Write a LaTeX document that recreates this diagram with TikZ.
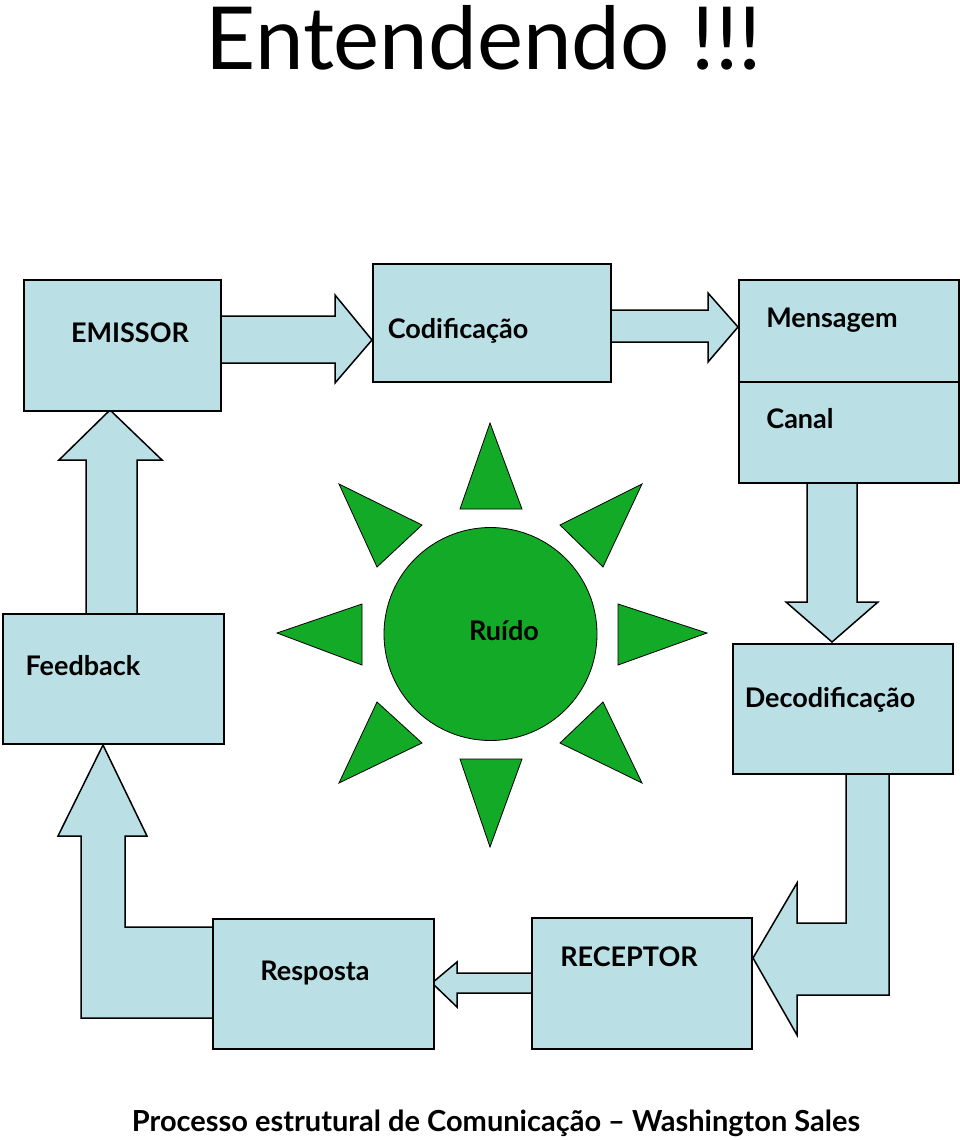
\documentclass[tikz,border=0pt]{standalone}
\usepackage{fontspec}
\setmainfont{Lato}
\definecolor{boxfill}{RGB}{186,223,228}
\definecolor{sungreen}{RGB}{18,170,38}
\begin{document}
\begin{tikzpicture}[x=1pt,y=-1pt,
  box/.style={draw=black, line width=1.5pt, fill=boxfill, rectangle, inner sep=0pt},
  blk/.style={draw=black, line width=1.5pt, fill=boxfill, line join=miter},
  lbl/.style={font=\fontsize{27}{30}\selectfont\bfseries, anchor=base, inner sep=0pt},
  ray/.style={draw=black, line width=0.8pt, fill=sungreen}]
\useasboundingbox[fill=white] (0,0) rectangle (960,1140);

% title
\node[font=\fontsize{87}{100}\selectfont, anchor=base, inner sep=0pt] (title) at (484,70) {Entendendo !!!};

% block arrows (drawn first, under boxes)
\path[blk] (220,316) -- (335,316) -- (335,295) -- (372,340) -- (335,383) -- (335,363) -- (220,363);
\path[blk] (610,310) -- (708,310) -- (708,293) -- (738,327) -- (708,362) -- (708,342) -- (610,342);
\path[blk] (807,482) -- (807,602) -- (786,602) -- (832,642) -- (878,602) -- (857,602) -- (857,482);
\path[blk] (846,773) -- (846,923) -- (797,923) -- (797,883) -- (753,958) -- (797,1035) -- (797,995) -- (889,995) -- (889,773);
\path[blk] (531,973) -- (457,973) -- (457,962) -- (432,983) -- (457,1007) -- (457,993) -- (531,993);
\path[blk] (212,927) -- (125,927) -- (125,836) -- (147,836) -- (103,745) -- (58,836) -- (81,836) -- (81,1018) -- (212,1018);
\path[blk] (86,613) -- (86,460) -- (59,460) -- (110,410) -- (162,460) -- (137,460) -- (137,613);

% boxes
\node[box, minimum width=197pt, minimum height=131pt, anchor=north west] (emissor) at (23,279) {};
\node[box, minimum width=238pt, minimum height=118pt, anchor=north west] (codif) at (372,263) {};
\node[box, minimum width=220pt, minimum height=102pt, anchor=north west] (mensagem) at (738,279) {};
\node[box, minimum width=220pt, minimum height=101pt, anchor=north west] (canal) at (738,381) {};
\node[box, minimum width=220pt, minimum height=130pt, anchor=north west] (decod) at (732,643) {};
\node[box, minimum width=220pt, minimum height=131pt, anchor=north west] (receptor) at (531,917) {};
\node[box, minimum width=221pt, minimum height=130pt, anchor=north west] (resposta) at (212,918) {};
\node[box, minimum width=221pt, minimum height=130pt, anchor=north west] (feedback) at (2,613) {};

% labels
\node[lbl] (emissorT) at (130,342) {EMISSOR};
\node[lbl] (codifT) at (458,338) {Codificação};
\node[lbl] (mensagemT) at (832,327) {Mensagem};
\node[lbl] (canalT) at (800,428) {Canal};
\node[lbl] (feedbackT) at (83,675) {Feedback};
\node[lbl] (decodT) at (830,707) {Decodificação};
\node[lbl] (receptorT) at (629,966) {RECEPTOR};
\node[lbl] (respostaT) at (315,980) {Resposta};

% sun
\node[circle, draw=black, line width=0.8pt, fill=sungreen, minimum size=213pt, inner sep=0pt] (sun) at (490.5,634) {};
\node[lbl] (ruidoT) at (504,640) {Ruído};
\path[ray] (460,509) -- (490,423) -- (522,509) -- cycle;
\path[ray] (460,759) -- (490,847) -- (522,759) -- cycle;
\path[ray] (362,604) -- (277,633) -- (362,665) -- cycle;
\path[ray] (618,604) -- (707,633) -- (618,665) -- cycle;
\path[ray] (339,484) -- (422,525) -- (377,567) -- cycle;
\path[ray] (642,484) -- (560,525) -- (603,567) -- cycle;
\path[ray] (377,702) -- (422,743) -- (339,783) -- cycle;
\path[ray] (603,702) -- (560,743) -- (642,783) -- cycle;

% footer
\node[lbl, font=\fontsize{29}{32}\selectfont\bfseries] (footer) at (496,1131) {Processo estrutural de Comunicação – Washington Sales};
\end{tikzpicture}
\end{document}
